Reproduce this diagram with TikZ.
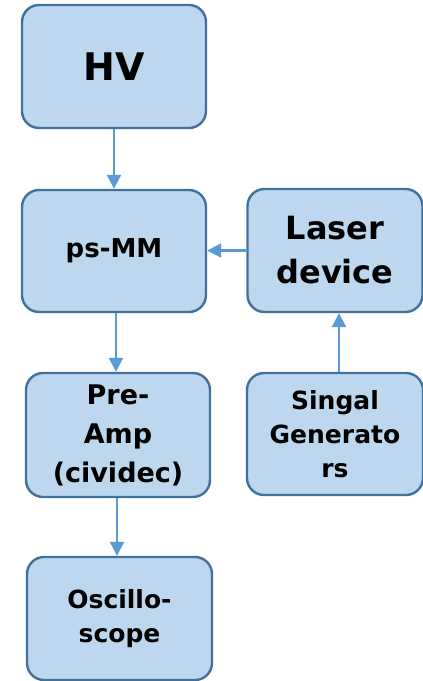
\documentclass[tikz,border=0pt]{standalone}
\usepackage{fontspec}
\setmainfont{DejaVu Sans}
\usetikzlibrary{arrows.meta}
\definecolor{boxfill}{HTML}{BDD7EE}
\definecolor{boxline}{HTML}{41719C}
\definecolor{arrowc}{HTML}{5B9BD5}
\tikzset{
  block/.style={draw=boxline, fill=boxfill, line width=2.4pt, rounded corners=17pt,
    align=center, font=\bfseries, inner sep=2pt},
  link/.style={draw=arrowc, line width=2.2pt, -{Triangle[length=14pt,width=14pt]}}
}
\begin{document}
\begin{tikzpicture}[x=1pt,y=-1pt]
\useasboundingbox (0,0) rectangle (423,681);
% blocks of the measurement chain
\node[block, minimum width=184pt, minimum height=123pt,
  font=\bfseries\fontsize{38}{40}\selectfont] (hv) at (114,66.5) {HV};
\node[block, minimum width=184pt, minimum height=122pt,
  font=\bfseries\fontsize{26}{28}\selectfont] (psmm) at (114,251) {ps-MM};
\node[block, minimum width=175pt, minimum height=123pt,
  font=\bfseries\fontsize{32}{44}\selectfont] (laser) at (335,250.5) {Laser\\device};
\node[block, minimum width=184pt, minimum height=124pt,
  font=\bfseries\fontsize{27}{39}\selectfont] (preamp) at (118,435) {Pre-\\Amp\\(cividec)};
\node[block, minimum width=176pt, minimum height=122pt,
  font=\bfseries\fontsize{25}{34}\selectfont] (sig) at (335,434) {Singal\\Generato\\rs};
\node[block, minimum width=185pt, minimum height=123pt,
  font=\bfseries\fontsize{25}{34}\selectfont] (osc) at (119.5,618.5) {Oscillo-\\scope};
% connectors
\draw[link] (hv.south) -- (psmm.north);
\draw[link] (laser.west) -- (psmm.east |- laser.west);
\draw[link] (sig.north -| 339,0) -- (laser.south -| 339,0);
\draw[link] (preamp.south -| 117,0) -- (osc.north -| 117,0);
\draw[link] (psmm.south -| 116,0) -- (preamp.north -| 116,0);
\end{tikzpicture}
\end{document}
